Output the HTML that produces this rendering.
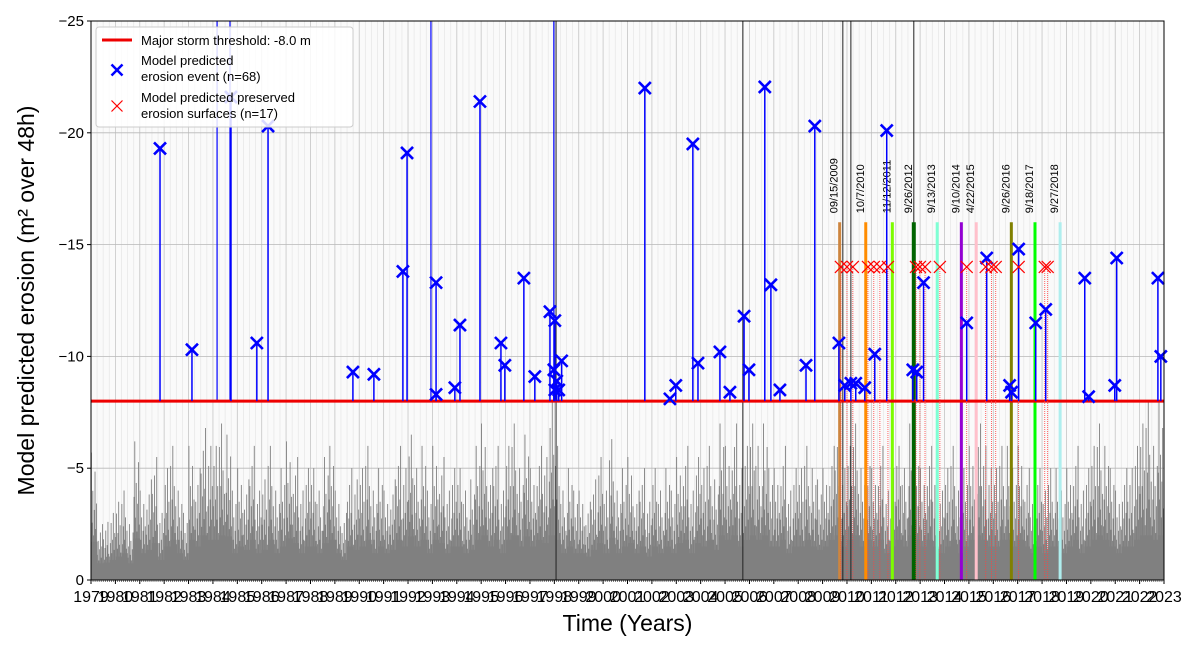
<!DOCTYPE html>
<html><head><meta charset="utf-8"><style>
body{margin:0;background:#fff;}
svg{font-family:"Liberation Sans","DejaVu Sans",sans-serif;}
</style></head><body>
<svg id="chart" width="1200" height="650" xmlns="http://www.w3.org/2000/svg"></svg>
<script>
const years=[];for(let y=1979;y<=2023;y++)years.push(y);
const yTicks=[0,-5,-10,-15,-20,-25];
const yTickLabels=["0","\u22125","\u221210","\u221215","\u221220","\u221225"];
const noisePeaks=[5.7,2.5,2.6,3, 3.5,4,2.5,6.2, 4,4.5,5.5,3, 5,6,4,3, 6,5,6.8,6, 6,7,6.5,4, 5,4.5,6,4, 4.5,6,4,5, 6.2,5.5,4,5, 5,4,5.5,6, 4,3,5,4.5, 5,6,4,5, 4,4.5,6,5, 6.5,5,6,4, 6,5.5,4,5, 5,4,4.5,6, 7,5,6,4, 6,7,5,6.5, 5,6,5.5,8, 6,4,5,4, 4,3.5,4.5,5.5, 4,6.3,4,5, 5.5,4,5,3.5, 5,4,5,4, 5.5,6,4,5.5, 5,6,4.5,7, 6,7,5,6, 7,6,7,5, 5,6,4,5, 5,6,5,4.5, 5,6,7,5, 6,7,5,6, 5,6,4,5, 6,5,7,6, 5,6,5,4, 5,6,4,5, 6,7,6,5, 5,6,6,5, 6,5,4,5, 4,5,5,4, 5,6,4,5, 6,7,6,5, 4,5,5,6, 7,8,6,8];
const tallSpikeYears=[1998.07,2005.73,2009.83,2010.16,2012.74];
const blueTallYears=[1984.17,1984.7,1992.94,1997.98];
const eventYears=[1981.83,1983.14,1984.74,1985.8,1986.26,1989.74,1990.6,1991.79,1991.96,1993.15,1993.15,1993.92,1994.13,1994.95,1995.81,1995.97,1996.75,1997.2,1997.82,1998.02,1997.98,1998.1,1998.02,1998.18,1998.3,2001.71,2002.74,2002.98,2003.68,2003.89,2004.79,2005.2,2005.78,2005.98,2006.63,2006.88,2007.25,2008.32,2008.68,2009.67,2009.91,2010.16,2010.36,2010.73,2011.14,2011.63,2012.7,2012.86,2013.14,2014.91,2015.73,2016.67,2016.75,2017.04,2017.74,2018.15,2019.75,2019.91,2020.98,2021.06,2022.75,2022.87];
const eventValues=[-19.3,-10.3,-21.6,-10.6,-20.3,-9.3,-9.2,-13.8,-19.1,-13.3,-8.3,-8.6,-11.4,-21.4,-10.6,-9.6,-13.5,-9.1,-12.0,-11.6,-9.4,-8.9,-8.5,-8.5,-9.8,-22.0,-8.1,-8.7,-19.5,-9.7,-10.2,-8.4,-11.8,-9.4,-22.05,-13.2,-8.5,-9.6,-20.3,-10.6,-8.7,-8.8,-8.8,-8.6,-10.1,-20.1,-9.4,-9.3,-13.3,-11.5,-14.4,-8.7,-8.4,-14.8,-11.5,-12.1,-13.5,-8.2,-8.7,-14.4,-13.5,-10.0];
const preservedYears=[2009.75,2010.0,2010.24,2010.86,2011.1,2011.35,2011.68,2012.83,2012.99,2013.2,2013.81,2014.91,2015.69,2015.93,2016.1,2017.04,2018.11,2018.23];
const preservedValue=-14;
const stormYears=[2009.7,2010.77,2011.86,2012.74,2013.7,2014.69,2015.3,2016.74,2017.71,2018.74];
const stormLabels=["09/15/2009","10/7/2010","11/12/2011","9/26/2012","9/13/2013","9/10/2014","4/22/2015","9/26/2016","9/18/2017","9/27/2018"];
const stormColors=["#cd853f","#ff8c00","#7cfc00","#006400","#7fffd4","#9400d3","#ffc0cb","#808000","#00ff00","#afeeee"];
const stormHeight=-16;
const threshold=-8;

const svg=document.getElementById('chart');const NS="http://www.w3.org/2000/svg";
const L=91,R=1164,T=21,B=580;
const X=y=>L+(y-1979)/(2023-1979)*(R-L);
const Y=v=>B+(v/25)*(B-T);
function mk(tag,attrs,parent){const e=document.createElementNS(NS,tag);for(const k in attrs)e.setAttribute(k,attrs[k]);(parent||svg).appendChild(e);return e;}
mk('rect',{x:L,y:T,width:R-L,height:B-T,fill:'#fafafa'});
for(let y=1979;y<2023;y+=0.25){mk('line',{x1:X(y),x2:X(y),y1:T,y2:B,stroke:'#e8e8e8','stroke-width':0.8});}
years.forEach(y=>{const g=mk('line',{x1:X(y),x2:X(y),y1:T,y2:B,stroke:'#c8c8c8','stroke-width':0.8});});
yTicks.forEach(v=>{const g=mk('line',{x1:L,x2:R,y1:Y(v),y2:Y(v),stroke:'#b8b8b8','stroke-width':0.8});});
const gN=mk('g',{});
const fr=[1,0.45,0.7,0.35,0.55,0.85,0.4,0.6];
noisePeaks.forEach((p,i)=>{const y0=1979+i*0.25;
 const h=Math.min(p*0.3,2);
 mk('rect',{x:X(y0),y:Y(-h),width:X(y0+0.25)-X(y0)+0.3,height:B-Y(-h),fill:'#808080'},gN);
 for(let k=0;k<8;k++){const v=p*fr[(k+i)%8];const xx=X(y0+0.015+k*0.03);mk('line',{x1:xx,x2:xx,y1:B,y2:Y(-v),stroke:'#808080','stroke-width':0.9},gN);}
});
tallSpikeYears.forEach(y=>{const l=mk('line',{x1:X(y),x2:X(y),y1:B,y2:T,stroke:'#222','stroke-width':1});});
blueTallYears.forEach(y=>{const l=mk('line',{x1:X(y),x2:X(y),y1:Y(threshold),y2:T,stroke:'#0000ff','stroke-width':1.2});});
stormYears.forEach((y,i)=>{const w=i===3?4:3;const l=mk('line',{x1:X(y),x2:X(y),y1:B,y2:Y(stormHeight),stroke:stormColors[i],'stroke-width':w});
 const t=mk('text',{x:0,y:0,transform:`translate(${X(y)-2},${Y(stormHeight)-9}) rotate(-90)`,'font-size':11,fill:'#000'});t.textContent=stormLabels[i];});
const th=mk('line',{x1:L,x2:R,y1:Y(threshold),y2:Y(threshold),stroke:'#ee0000','stroke-width':3});
function cross(cx,cy,s,col,w,name){const g=mk('g',{});
 mk('line',{x1:cx-s,y1:cy-s,x2:cx+s,y2:cy+s,stroke:col,'stroke-width':w},g);mk('line',{x1:cx-s,y1:cy+s,x2:cx+s,y2:cy-s,stroke:col,'stroke-width':w},g);}
preservedYears.forEach(y=>{const l=mk('line',{x1:X(y),x2:X(y),y1:B,y2:Y(preservedValue),stroke:'#ff4040','stroke-width':0.8,'stroke-dasharray':'1,1'});});
eventYears.forEach((y,i)=>{const l=mk('line',{x1:X(y),x2:X(y),y1:Y(threshold),y2:Y(eventValues[i]),stroke:'#0000ff','stroke-width':1.5});});
eventYears.forEach((y,i)=>cross(X(y),Y(eventValues[i]),6,'#0000ff',2.6,'erosion-event-marker'));
preservedYears.forEach(y=>cross(X(y),Y(preservedValue),6,'#ff0000',1.2,'preserved-surface-marker'));
mk('rect',{x:L,y:T,width:R-L,height:B-T,fill:'none',stroke:'#000','stroke-width':1});
yTicks.forEach((v,i)=>{mk('line',{x1:L-4,x2:L,y1:Y(v),y2:Y(v),stroke:'#000'});const t=mk('text',{x:L-7,y:Y(v)+5,'font-size':15,'text-anchor':'end'});t.textContent=yTickLabels[i];});
for(let y=1979;y<2023;y+=1/12){mk('line',{x1:X(y),x2:X(y),y1:B,y2:B+2,stroke:'#000','stroke-width':0.5});}
years.forEach(y=>{mk('line',{x1:X(y),x2:X(y),y1:B,y2:B+4,stroke:'#000'});const t=mk('text',{x:X(y),y:B+22,'font-size':16,'text-anchor':'middle'});t.textContent=String(y);});
const xt=mk('text',{x:(L+R)/2,y:631,'font-size':23,'text-anchor':'middle'});xt.textContent='Time (Years)';
const yt=mk('text',{x:0,y:0,transform:`translate(34,${(T+B)/2}) rotate(-90)`,'font-size':23,'text-anchor':'middle'});yt.textContent='Model predicted erosion (m\u00b2 over 48h)';
const lg=mk('g',{});
mk('rect',{x:96,y:27,width:257,height:100,rx:3,fill:'#fff','fill-opacity':0.85,stroke:'#ccc'},lg);
mk('line',{x1:102,x2:132,y1:40,y2:40,stroke:'#ee0000','stroke-width':3},lg);
const t1=mk('text',{x:141,y:45,'font-size':13},lg);t1.textContent='Major storm threshold: -8.0 m';
cross(117,70,5.5,'#0000ff',2.5,'legend-event-marker');
const t2=mk('text',{x:141,y:65,'font-size':13},lg);t2.textContent='Model predicted';
const t3=mk('text',{x:141,y:81,'font-size':13},lg);t3.textContent='erosion event (n=68)';
cross(117,106,5.5,'#ff0000',1.2,'legend-preserved-marker');
const t4=mk('text',{x:141,y:102,'font-size':13},lg);t4.textContent='Model predicted preserved';
const t5=mk('text',{x:141,y:118,'font-size':13},lg);t5.textContent='erosion surfaces (n=17)';
</script>
</body></html>
